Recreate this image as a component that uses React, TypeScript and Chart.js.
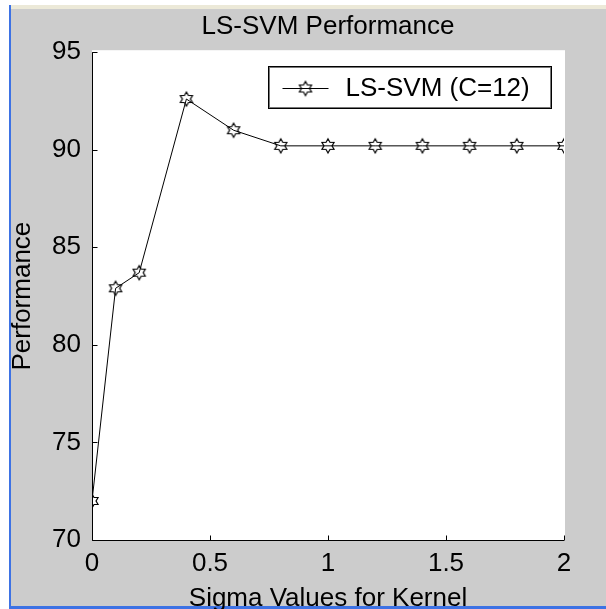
import React, { useEffect, useRef } from "react";
import { Chart, registerables } from "chart.js";

Chart.register(...registerables);

// ---- data ----
const sigmaValues = [0, 0.1, 0.2, 0.4, 0.6, 0.8, 1.0, 1.2, 1.4, 1.6, 1.8, 2.0];
const performanceValues = [72.0, 82.9, 83.7, 92.6, 91.0, 90.2, 90.2, 90.2, 90.2, 90.2, 90.2, 90.2];
const seriesLabel = "LS-SVM (C=12)";
const chartTitle = "LS-SVM Performance";
const xAxisTitle = "Sigma Values for Kernel";
const yAxisTitle = "Performance";
const xRange = [0, 2];
const xStep = 0.5;
const yRange = [70, 95];
const yStep = 5;

const W = 606;
const H = 609;
const FONT = "'Liberation Sans', Arial, Helvetica, sans-serif";
const FS = 26;

function makeHexagram(r: number): HTMLCanvasElement {
  const size = Math.ceil(2 * r + 4);
  const c = document.createElement("canvas");
  c.width = size;
  c.height = size;
  const ctx = c.getContext("2d")!;
  const cx = size / 2;
  const cy = size / 2;
  ctx.beginPath();
  for (let i = 0; i < 12; i++) {
    const ang = -Math.PI / 2 + (i * Math.PI) / 6;
    const rad = i % 2 === 0 ? r : r / Math.sqrt(3);
    const x = cx + rad * Math.cos(ang);
    const y = cy + rad * Math.sin(ang);
    if (i === 0) ctx.moveTo(x, y);
    else ctx.lineTo(x, y);
  }
  ctx.closePath();
  ctx.strokeStyle = "#000";
  ctx.lineWidth = 1.2;
  ctx.stroke();
  return c;
}

export default function App() {
  const ref = useRef<HTMLCanvasElement | null>(null);

  useEffect(() => {
    const canvas = ref.current;
    if (!canvas) return;
    const marker = makeHexagram(7);

    const framePlugin = {
      id: "matlabFrame",
      beforeDraw(chart: any) {
        const { ctx, chartArea: a } = chart;
        ctx.save();
        ctx.fillStyle = "#ffffff";
        ctx.fillRect(0, 0, W, H);
        ctx.fillStyle = "#cccccc";
        ctx.fillRect(9, 5, W - 9, H - 5);
        ctx.fillStyle = "#ece9d8";
        ctx.fillRect(9, 5, W - 9, 4);
        ctx.fillStyle = "#3d72e4";
        ctx.fillRect(9, 5, 2, H - 5);
        ctx.fillRect(9, H - 3, W - 9, 3);
        ctx.fillStyle = "#ffffff";
        ctx.fillRect(a.left, a.top - 2, a.right - a.left + 1, a.bottom - a.top + 2);
        ctx.restore();
      },
      afterDraw(chart: any) {
        const { ctx, chartArea: a, scales } = chart;
        const xs = scales.x;
        const ys = scales.y;
        ctx.save();
        ctx.strokeStyle = "#000";
        ctx.lineWidth = 1;
        const L = Math.round(a.left) + 0.5;
        const B = Math.round(a.bottom) + 0.5;
        ctx.beginPath();
        ctx.moveTo(L, a.top);
        ctx.lineTo(L, B);
        ctx.lineTo(a.right, B);
        ys.ticks.forEach((t: any) => {
          const py = Math.round(ys.getPixelForValue(t.value)) + 0.5;
          ctx.moveTo(L, py);
          ctx.lineTo(L + 5, py);
        });
        xs.ticks.forEach((t: any) => {
          const px = Math.round(xs.getPixelForValue(t.value)) + 0.5;
          ctx.moveTo(px, B);
          ctx.lineTo(px, B - 5);
        });
        ctx.stroke();

        // legend box
        const bl = Math.round(a.left + 176) + 0.5;
        const br = Math.round(a.right - 13) + 0.5;
        const bt = Math.round(a.top + 14) + 0.5;
        const bb = Math.round(a.top + 56) + 0.5;
        ctx.fillStyle = "#fff";
        ctx.fillRect(bl, bt, br - bl, bb - bt);
        ctx.strokeStyle = "#000";
        ctx.strokeRect(bl, bt, br - bl, bb - bt);
        ctx.strokeStyle = "#777";
        ctx.strokeRect(bl + 1, bt + 1, br - bl - 2, bb - bt - 2);
        const cy = Math.round((bt + bb) / 2) + 0.5;
        ctx.strokeStyle = "#000";
        ctx.beginPath();
        ctx.moveTo(bl + 14, cy);
        ctx.lineTo(bl + 60, cy);
        ctx.stroke();
        ctx.drawImage(marker, bl + 37 - marker.width / 2, cy - marker.height / 2);
        ctx.fillStyle = "#000";
        ctx.font = `${FS}px ${FONT}`;
        ctx.textAlign = "left";
        ctx.textBaseline = "middle";
        ctx.fillText(chart.data.datasets[0].label, bl + 77, cy);
        ctx.restore();
      },
    };

    const chart = new Chart(canvas, {
      type: "line",
      data: {
        datasets: [
          {
            label: seriesLabel,
            data: sigmaValues.map((x, i) => ({ x, y: performanceValues[i] })),
            borderColor: "#000",
            borderWidth: 1,
            pointStyle: marker as any,
            pointRadius: 7,
            tension: 0,
            fill: false,
          },
        ],
      },
      options: {
        responsive: false,
        animation: false,
        devicePixelRatio: 1,
        layout: { padding: { left: 0, right: 42, top: 0, bottom: 0 } },
        plugins: {
          legend: { display: false },
          tooltip: { enabled: false },
          title: {
            display: true,
            text: chartTitle,
            color: "#000",
            fullSize: false,
            font: { family: FONT, size: FS, weight: "normal" as any, lineHeight: 1.2 },
            padding: { top: 11, bottom: 10 },
          },
        },
        scales: {
          x: {
            type: "linear",
            min: xRange[0],
            max: xRange[1],
            afterFit: (s: any) => {
              s.height = 69;
            },
            grid: { display: false, drawTicks: false },
            border: { display: false },
            ticks: {
              stepSize: xStep,
              color: "#000",
              font: { family: FONT, size: FS },
              padding: 8,
              maxRotation: 0,
              autoSkip: false,
              callback: (v: any) => String(Number(v)),
            },
            title: {
              display: true,
              text: xAxisTitle,
              color: "#000",
              font: { family: FONT, size: FS, lineHeight: 0.8 },
              padding: { top: 0, bottom: 0 },
            },
          },
          y: {
            type: "linear",
            min: yRange[0],
            max: yRange[1],
            afterFit: (s: any) => {
              s.width = 92;
            },
            grid: { display: false, drawTicks: false },
            border: { display: false },
            ticks: {
              stepSize: yStep,
              color: "#000",
              font: { family: FONT, size: FS },
              padding: 11,
              autoSkip: false,
            },
            title: {
              display: true,
              text: yAxisTitle,
              color: "#000",
              font: { family: FONT, size: FS, lineHeight: 1.2 },
              padding: { top: 7, bottom: 0 },
            },
          },
        },
      },
      plugins: [framePlugin],
    });

    return () => chart.destroy();
  }, []);

  return (
    <div style={{ position: "fixed", left: 0, top: 0, width: W, height: H }}>
      <canvas ref={ref} width={W} height={H} style={{ display: "block", width: W, height: H }} />
    </div>
  );
}
